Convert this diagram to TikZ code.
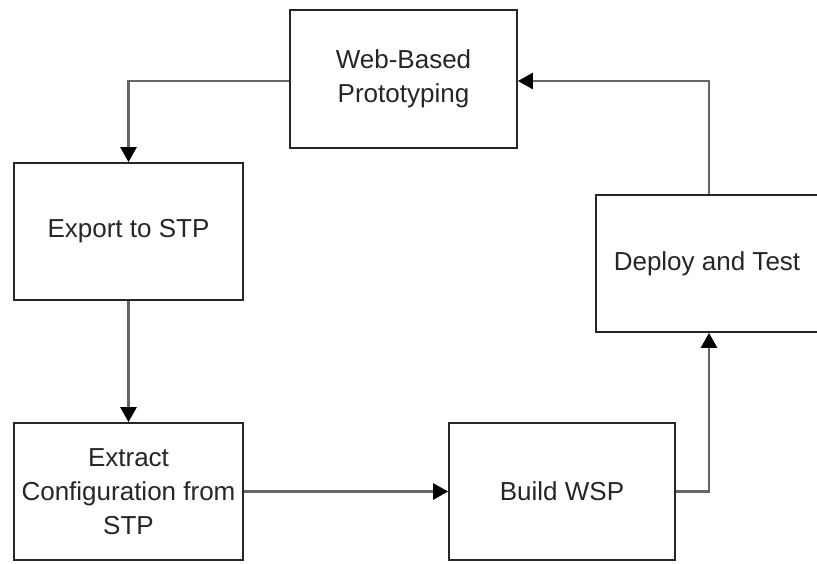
\documentclass[tikz,border=0pt]{standalone}
\usepackage{fontspec}
\setmainfont{Liberation Sans}
\usetikzlibrary{arrows.meta}
\begin{document}
\begin{tikzpicture}[x=1pt,y=-1pt,
  box/.style={draw=black!85,line width=1.8pt,fill=white,minimum width=229pt,minimum height=137pt,inner sep=0pt,align=center,text=black!85,font=\fontsize{26}{34}\selectfont},
  conn/.style={draw=black!60,line width=2.7pt,-{Triangle[length=15pt,width=16pt,color=black]}}]
\useasboundingbox (0,0) rectangle (817,563);
\node[box,minimum width=227pt,minimum height=138pt] (web) at (403.5,79) {Web-Based\\Prototyping};
\node[box] (export) at (128.5,231.5) {Export to STP};
\node[box] (extract) at (128.5,491.5) {Extract\\Configuration from\\STP};
\node[box,minimum width=226pt] (build) at (562,491.5) {Build WSP};
\node[box,minimum width=222pt] (deploy) at (707,263.5) {Deploy and Test};
\draw[conn] (web.west |- 0,81) -| (export.north);
\draw[conn] (export.south) -- (extract.north);
\draw[conn] (extract.east) -- (build.west);
\draw[conn] (build.east) -| (deploy.south -| 709,0);
\draw[conn] (deploy.north -| 709,0) |- (web.east |- 0,81);
\end{tikzpicture}
\end{document}
